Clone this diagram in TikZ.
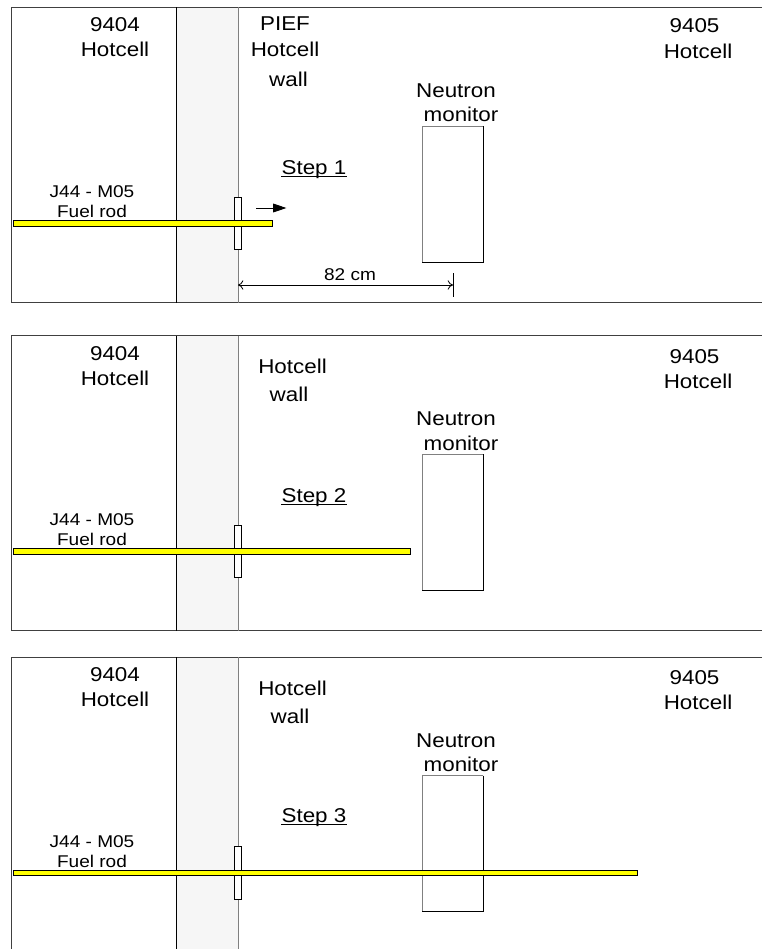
\documentclass[tikz,border=0pt]{standalone}
\usepackage{fontspec}
\setmainfont{Liberation Sans}[FakeStretch=1.12]
\usetikzlibrary{arrows.meta}
\definecolor{wallgray}{HTML}{F6F6F6}
\definecolor{rodyellow}{HTML}{FFFF00}
\definecolor{framegray}{HTML}{404040}
\definecolor{edgegray}{HTML}{808080}
\begin{document}
\begin{tikzpicture}[x=0.75pt,y=-0.75pt,
  big/.style={font=\fontsize{15}{18}\selectfont, inner sep=0pt, anchor=base},
  small/.style={font=\fontsize{12.75}{15}\selectfont, inner sep=0pt, anchor=base},
  frameline/.style={draw=framegray, line width=0.75pt},
  wallfill/.style={fill=wallgray},
  seal/.style={draw=black, fill=white, line width=0.6pt},
  rod/.style={draw=black, fill=rodyellow, line width=0.6pt},
  thin line/.style={line width=0.6pt}
]
\clip (0,0) rectangle (762,949);
\fill[white] (0,0) rectangle (762,949);

% ---------- common panel parts: #1 = top y, #2 = rod end x, #3 = suffix
\newcommand{\hotpanel}[3]{%
  \fill[wallfill] (176,#1) rectangle (238,#1+295);
  \draw[frameline] (762,#1) -- (11,#1) -- (11,#1+295) -- (762,#1+295);
  \draw[black, thin line] (176,#1) -- (176,#1+295);
  \draw[edgegray, thin line] (238,#1) -- (238,#1+295);
  % neutron monitor box
  \coordinate (mon#3nw) at (422,#1+118.5);
  \coordinate (mon#3se) at (483,#1+254.5);
  \draw[edgegray, thin line] (mon#3se -| mon#3nw) -- (mon#3nw) -- (mon#3nw -| mon#3se);
  \draw[black, thin line] (mon#3nw -| mon#3se) -- (mon#3se) -- (mon#3se -| mon#3nw);
  % seal
  \draw[seal] (234.5,#1+189.5) rectangle (241.5,#1+242);
  % rod
  \draw[rod] (13,#1+213) rectangle (#2,#1+218.7);
  % labels
  \node[big] (a#3) at (115,#1+24.5) {9404};
  \node[big] (b#3) at (115,#1+49.5) {Hotcell};
  \node[big] (n#3) at (456,#1+90) {Neutron};
  \node[big] (m#3) at (461,#1+114.5) {monitor};
  \node[small] (j#3) at (92,#1+190) {J44 - M05};
  \node[small] (f#3) at (92,#1+210) {Fuel rod};
}

% ---------- Panel 1
\hotpanel{7.5}{272}{1}
\node[big] (p1) at (285,31) {PIEF};
\node[big] (h1) at (285,57) {Hotcell};
\node[big] (w1) at (288.5,86) {wall};
\node[big] (c1) at (694.5,33) {9405};
\node[big] (d1) at (698,59) {Hotcell};
\node[big] (s1) at (314,174) {Step 1};
\draw[thin line] ([yshift=-1.6pt]s1.base west) -- ([yshift=-1.6pt]s1.base east);
\coordinate (ar1) at (256,208);
\coordinate (ar2) at (286.5,208);
\draw[line width=0.75pt, -{Triangle[length=10pt,width=6.5pt]}] (ar1) -- (ar2);
% dimension
\coordinate (dimA) at (238,285);
\coordinate (dimB) at (453,285);
\draw[thin line] (453,273) -- (453,297);
\draw[thin line, {To[length=4pt,width=7pt]}-{To[length=4pt,width=7pt]}] (dimA) -- (dimB);
\node[small] (cm) at (350,280) {82 cm};

% ---------- Panel 2
\hotpanel{335.5}{410}{2}
\node[big] (h2) at (292.5,373) {Hotcell};
\node[big] (w2) at (289,401) {wall};
\node[big] (c2) at (694.5,363) {9405};
\node[big] (d2) at (698,388) {Hotcell};
\node[big] (s2) at (314,502) {Step 2};
\draw[thin line] ([yshift=-1.6pt]s2.base west) -- ([yshift=-1.6pt]s2.base east);

% ---------- Panel 3
\hotpanel{657}{637.5}{3}
\node[big] (h3) at (292.5,695) {Hotcell};
\node[big] (w3) at (290,723) {wall};
\node[big] (c3) at (694.5,684) {9405};
\node[big] (d3) at (698,709) {Hotcell};
\node[big] (s3) at (314,822) {Step 3};
\draw[thin line] ([yshift=-1.6pt]s3.base west) -- ([yshift=-1.6pt]s3.base east);
\end{tikzpicture}
\end{document}
